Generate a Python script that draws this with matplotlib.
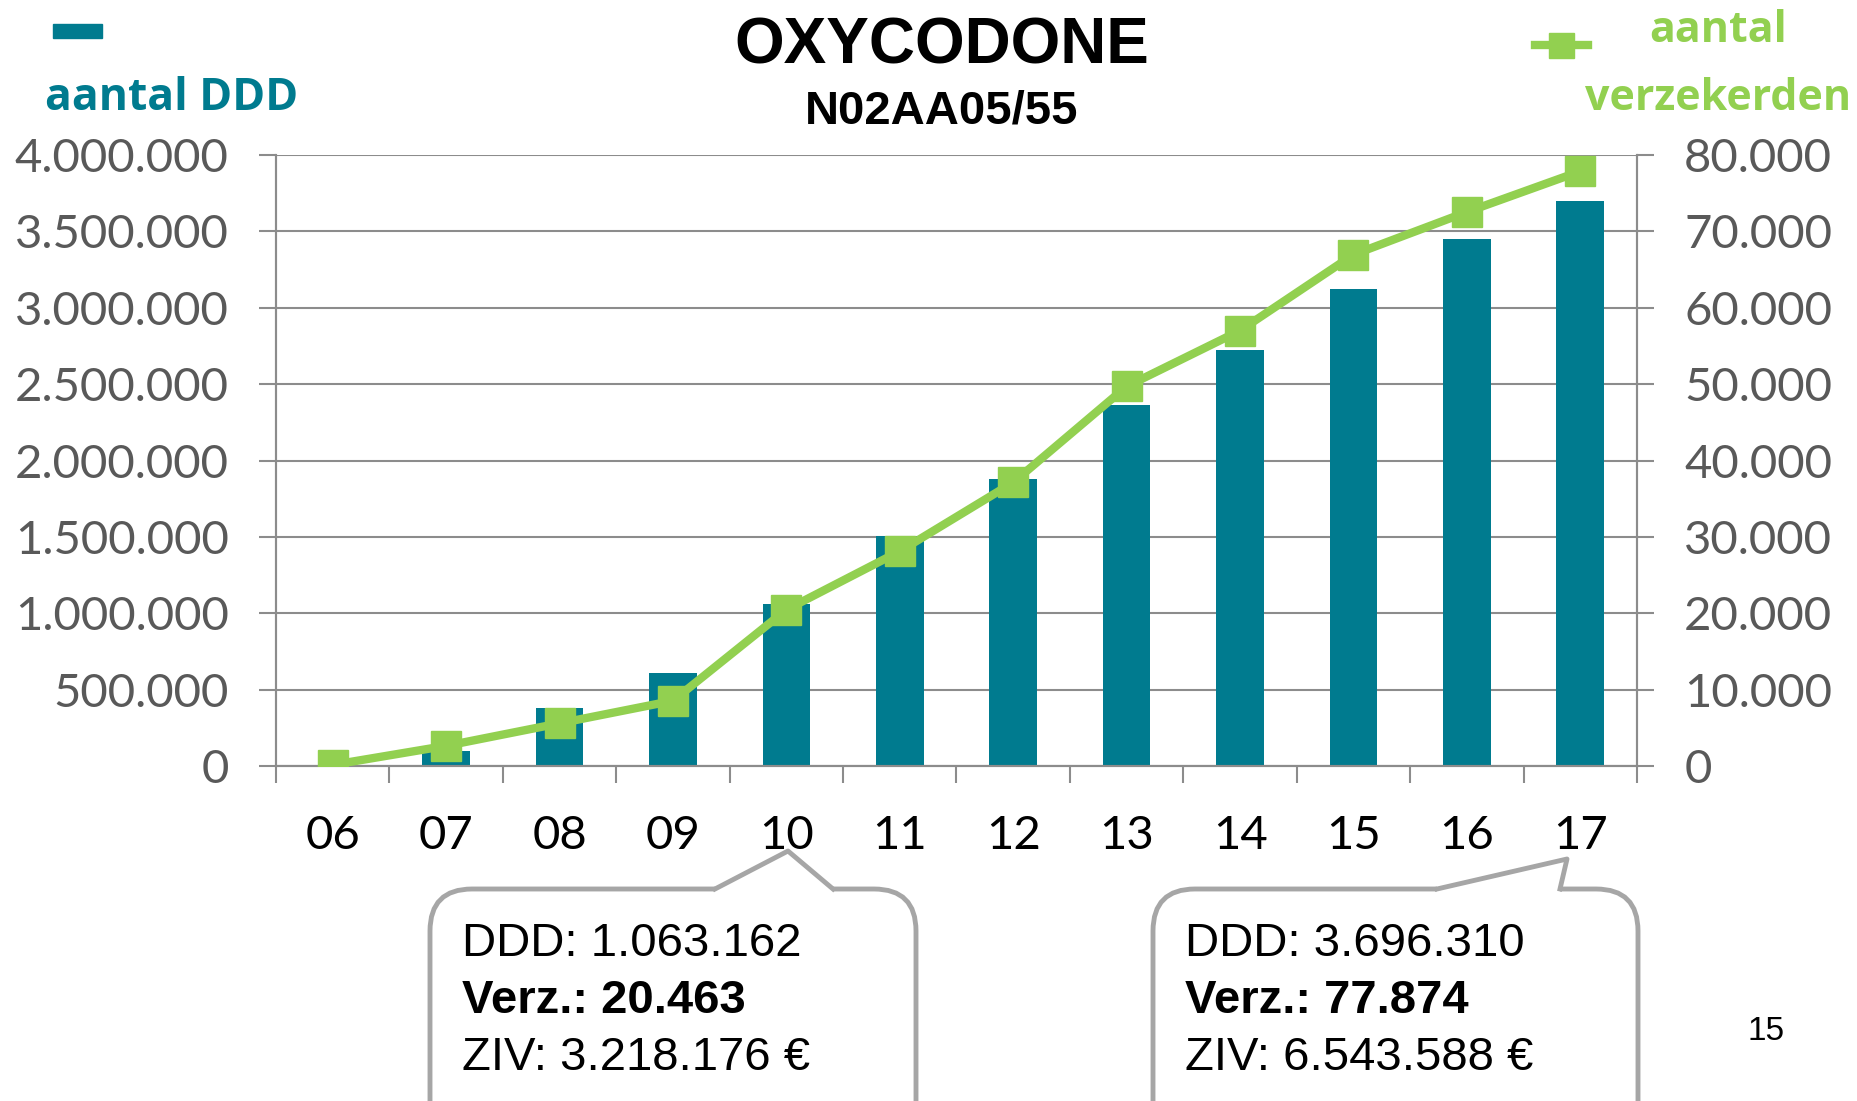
import numpy as np
import matplotlib
matplotlib.use("Agg")
import matplotlib.pyplot as plt
from matplotlib.ticker import FuncFormatter, FixedLocator
from matplotlib.patches import FancyBboxPatch, Polygon, Rectangle
from matplotlib.lines import Line2D
from matplotlib.transforms import IdentityTransform

years = ["06", "07", "08", "09", "10", "11", "12", "13", "14", "15", "16", "17"]
ddd = [5000, 100000, 380000, 606000, 1063162, 1505000, 1880000, 2361000,
       2726000, 3122000, 3449000, 3696310]
verz = [150, 2640, 5590, 8540, 20463, 28120, 37130, 49700, 57010, 66950,
        72540, 77874]

callout_left = ["DDD: 1.063.162", "Verz.: 20.463", "ZIV: 3.218.176 €"]
callout_right = ["DDD: 3.696.310", "Verz.: 77.874", "ZIV: 6.543.588 €"]

TEAL = "#007B8F"
GREEN = "#92D050"
GRID = "#8C8C8C"
TICK = "#595959"
W, H = 1858, 1101

fig = plt.figure(figsize=(W / 100, H / 100), dpi=100)
ax = fig.add_axes([276 / W, 1 - 766 / H, (1637 - 276) / W, (766 - 155) / H])
ax2 = ax.twinx()

x = np.arange(len(years))
ax.bar(x, ddd, width=0.42, color=TEAL, zorder=2)
ax.set_xlim(-0.5, len(years) - 0.5)
ax.set_ylim(0, 4000000)
ax.set_yticks(np.arange(0, 4000001, 500000))
dots = FuncFormatter(lambda v, p: "{:,}".format(int(v)).replace(",", "."))
ax.yaxis.set_major_formatter(dots)
ax.grid(axis="y", color=GRID, lw=1.5, zorder=0)
ax.set_axisbelow(True)

ax2.plot(x, verz, color=GREEN, lw=6, marker="s", markersize=22,
         markerfacecolor=GREEN, markeredgecolor=GREEN, zorder=3)
ax2.set_ylim(0, 80000)
ax2.set_yticks(np.arange(0, 80001, 10000))
ax2.yaxis.set_major_formatter(dots)

tick_font = dict(family="Lato", size=34)
for a in (ax, ax2):
    for s in a.spines.values():
        s.set_color(GRID)
        s.set_linewidth(1.5)
    a.spines["top"].set_visible(False)

ax.set_xticks(x)
ax.set_xticklabels(years, fontdict=tick_font, color="black")
ax.xaxis.set_minor_locator(FixedLocator(np.arange(-0.5, len(years), 1)))
ax.tick_params(axis="x", which="major", length=0, pad=35)
ax.tick_params(axis="x", which="minor", length=12, width=1.5, color=GRID)
ax.tick_params(axis="y", length=12, width=1.5, color=GRID, pad=22,
               labelcolor=TICK)
ax2.tick_params(axis="y", length=12, width=1.5, color=GRID, pad=22,
                labelcolor=TICK)
for lab in ax.get_yticklabels() + ax2.get_yticklabels():
    lab.set_fontfamily("Lato")
    lab.set_fontsize(34)

# titles
fig.text(942 / W, 1 - 46 / H, "OXYCODONE", ha="center", va="center",
         family="Liberation Sans", weight="bold", size=46)
fig.text(942 / W, 1 - 111 / H, "N02AA05/55", ha="center", va="center",
         family="Liberation Sans", weight="bold", size=34)

# legend pieces
pix = IdentityTransform()
fig.patches.append(Rectangle((53, H - 38), 49, 14, color=TEAL, transform=pix))
fig.text(45 / W, 1 - 98 / H, "aantal DDD", ha="left", va="center",
         family="Open Sans", weight="bold", size=32, color=TEAL)
fig.lines.append(Line2D([1535, 1588], [H - 45, H - 45], color=GREEN, lw=6,
                        transform=pix))
fig.lines.append(Line2D([1561], [H - 45], marker="s", markersize=18,
                        color=GREEN, transform=pix))
fig.text(1718 / W, 1 - 31 / H, "aantal", ha="center", va="center",
         family="Open Sans", weight="bold", size=31, color=GREEN)
fig.text(1718 / W, 1 - 98 / H, "verzekerden", ha="center", va="center",
         family="Open Sans", weight="bold", size=31, color=GREEN)


def callout(x0, x1, top, b0, b1, apex, lines, text_x):
    box = FancyBboxPatch((x0, -60), x1 - x0, (H - top) + 60,
                         boxstyle="round,pad=0,rounding_size=42",
                         fc="white", ec="#A6A6A6", lw=3.5, transform=pix)
    fig.patches.append(box)
    fig.patches.append(Polygon([(b0, H - top - 6), (b1, H - top - 6),
                                (b1, H - top + 4), (b0, H - top + 4)],
                               closed=True, fc="white", ec="none",
                               transform=pix))
    fig.lines.append(Line2D([b0, apex[0], b1], [H - top, H - apex[1], H - top],
                            color="#A6A6A6", lw=3.5, transform=pix))
    for i, t in enumerate(lines):
        fig.text(text_x / W, 1 - (944 + 57 * i) / H, t, ha="left",
                 va="center", family="Liberation Sans", size=34,
                 weight="bold" if i == 1 else "normal")


callout(430, 916, 889, 715, 833, (788, 851), callout_left, 462)
callout(1153, 1638, 889, 1437, 1560, (1567, 859), callout_right, 1185)

fig.text(1766 / W, 1 - 1031 / H, "15", ha="center", va="center",
         family="Liberation Sans", size=24)

fig.savefig("out.png", dpi=100)
